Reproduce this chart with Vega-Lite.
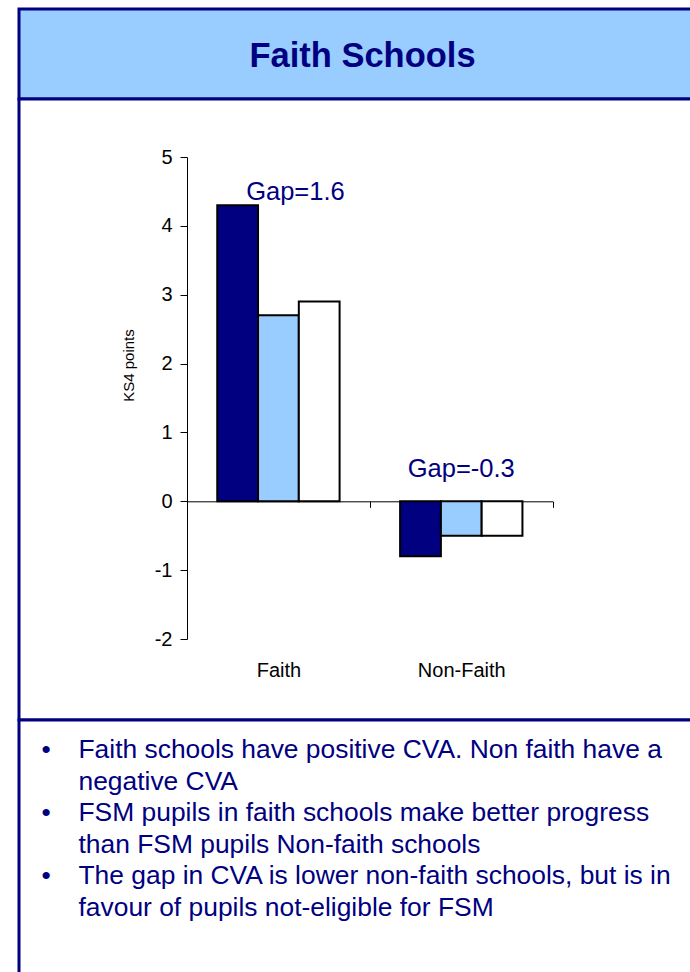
{
  "$schema": "https://vega.github.io/schema/vega-lite/v6.json",
  "background": "white",
  "padding": {"left": 17, "top": 7, "right": 0, "bottom": 0},
  "spacing": 0,
  "bounds": "flush",
  "config": {
    "font": "Liberation Sans",
    "view": {"stroke": "#000080", "strokeWidth": 3}
  },
  "vconcat": [
    {
      "width": 687,
      "height": 90,
      "view": {"fill": "#99CCFF", "stroke": "#000080", "strokeWidth": 3},
      "data": {"values": [{"title": "Faith Schools"}]},
      "mark": {"type": "text", "font": "Liberation Sans", "fontSize": 34.5, "fontWeight": "bold", "fill": "#000080", "baseline": "alphabetic", "dy": 12.7},
      "encoding": {"text": {"field": "title"}}
    },
    {
      "width": 687,
      "height": 621,
      "view": {"fill": "white", "stroke": "#000080", "strokeWidth": 3},
      "layer": [
        {
          "data": {"values": [
            {"group": "Faith", "series": "FSM", "value": 4.3},
            {"group": "Faith", "series": "Non-FSM", "value": 2.7},
            {"group": "Faith", "series": "All", "value": 2.9},
            {"group": "Non-Faith", "series": "FSM", "value": -0.8},
            {"group": "Non-Faith", "series": "Non-FSM", "value": -0.5},
            {"group": "Non-Faith", "series": "All", "value": -0.5}
          ]},
          "mark": {"type": "bar", "stroke": "black", "strokeWidth": 2},
          "encoding": {
            "x": {
              "field": "group", "type": "nominal",
              "scale": {"domain": ["Faith", "Non-Faith"], "range": [168, 533.7], "paddingInner": 0, "paddingOuter": 0},
              "axis": {"title": null, "orient": "bottom", "offset": -218.7, "domainColor": "black", "domainWidth": 1, "tickColor": "black", "tickSize": 6, "tickBand": "extent", "labelFontSize": 20, "labelFont": "Liberation Sans", "labelColor": "black", "labelAngle": 0, "labelBaseline": "alphabetic", "labelPadding": 169.4}
            },
            "xOffset": {"field": "series", "type": "nominal", "sort": ["FSM", "Non-FSM", "All"], "scale": {"paddingInner": 0, "paddingOuter": 0.742}},
            "y": {
              "field": "value", "type": "quantitative",
              "scale": {"domain": [-2, 5], "range": [540, 58], "nice": false, "zero": false},
              "axis": {"title": "KS4 points", "values": [-2, -1, 0, 1, 2, 3, 4, 5], "labelExpr": "'' + datum.value", "offset": -168, "grid": false, "domainColor": "black", "domainWidth": 1, "tickColor": "black", "tickSize": 7, "labelPadding": 8, "labelFontSize": 20, "labelFont": "Liberation Sans", "labelColor": "black", "titleFontSize": 15, "titleFont": "Liberation Sans", "titleFontWeight": "normal", "titleColor": "black", "titlePadding": 18, "titleY": 266}
            },
            "color": {"field": "series", "type": "nominal", "scale": {"domain": ["FSM", "Non-FSM", "All"], "range": ["#000080", "#99CCFF", "#FFFFFF"]}, "legend": null}
          }
        },
        {
          "data": {"values": [{"group": "Faith", "label": "Gap=1.6"}]},
          "mark": {"type": "text", "fontSize": 25.5, "fill": "#000080", "baseline": "alphabetic", "align": "center", "dx": 17},
          "encoding": {
            "x": {"field": "group", "type": "nominal"},
            "y": {"datum": 4.375, "type": "quantitative"},
            "text": {"field": "label"}
          }
        },
        {
          "data": {"values": [{"group": "Non-Faith", "label": "Gap=-0.3"}]},
          "mark": {"type": "text", "fontSize": 25.5, "fill": "#000080", "baseline": "alphabetic", "align": "center", "dx": 0},
          "encoding": {
            "x": {"field": "group", "type": "nominal"},
            "y": {"datum": 0.353, "type": "quantitative"},
            "text": {"field": "label"}
          }
        }
      ]
    },
    {
      "width": 687,
      "height": 254,
      "view": {"fill": "white", "stroke": "#000080", "strokeWidth": 3},
      "data": {"values": [
        {"line": 1, "bullet": "•", "text": "Faith schools have positive CVA. Non faith have a"},
        {"line": 2, "bullet": "", "text": "negative CVA"},
        {"line": 3, "bullet": "•", "text": "FSM pupils in faith schools make better progress"},
        {"line": 4, "bullet": "", "text": "than FSM pupils Non-faith schools"},
        {"line": 5, "bullet": "•", "text": "The gap in CVA is lower non-faith schools, but is in"},
        {"line": 6, "bullet": "", "text": "favour of pupils not-eligible for FSM"}
      ]},
      "encoding": {
        "y": {"field": "line", "type": "ordinal", "scale": {"type": "point", "range": [38, 196], "padding": 0}, "axis": null},
        "x": {"datum": 0, "type": "quantitative", "scale": {"domain": [0, 1]}, "axis": null}
      },
      "layer": [
        {"mark": {"type": "text", "align": "center", "baseline": "alphabetic", "dx": 27, "fontSize": 26.4, "fill": "#000080"}, "encoding": {"text": {"field": "bullet"}}},
        {"mark": {"type": "text", "align": "left", "baseline": "alphabetic", "dx": 59.5, "fontSize": 26.4, "fill": "#000080"}, "encoding": {"text": {"field": "text"}}}
      ]
    }
  ]
}
